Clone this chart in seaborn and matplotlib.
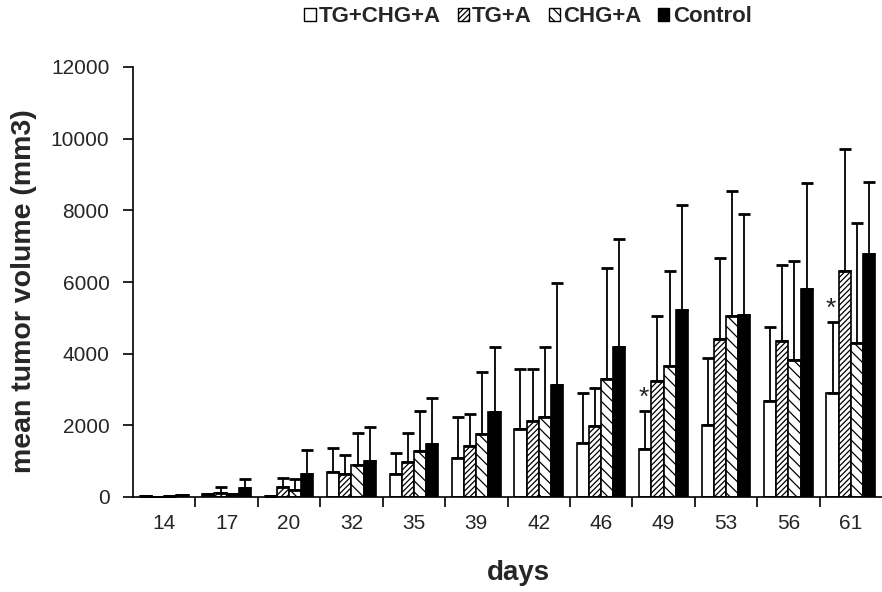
import numpy as np
import pandas as pd
import matplotlib
matplotlib.use('Agg')
import matplotlib.pyplot as plt
from matplotlib.patches import Patch
import seaborn as sns

# data
days = ['14', '17', '20', '32', '35', '39', '42', '46', '49', '53', '56', '61']
groups = ['TG+CHG+A', 'TG+A', 'CHG+A', 'Control']

tg_chg_a = [40, 70, 20, 700, 630, 1100, 1900, 1520, 1340, 2010, 2690, 2900]
tg_chg_a_err = [0, 0, 0, 680, 590, 1130, 1670, 1380, 1050, 1860, 2060, 1980]
tg_a = [10, 100, 290, 650, 970, 1435, 2120, 1990, 3240, 4420, 4340, 6300]
tg_a_err = [0, 180, 250, 510, 810, 875, 1450, 1040, 1800, 2240, 2140, 3410]
chg_a = [20, 70, 200, 890, 1280, 1760, 2230, 3280, 3660, 5050, 3830, 4290]
chg_a_err = [0, 0, 310, 890, 1110, 1730, 1970, 3120, 2640, 3490, 2770, 3370]
control = [60, 250, 630, 1000, 1480, 2370, 3120, 4200, 5220, 5090, 5810, 6780]
control_err = [0, 240, 670, 950, 1290, 1830, 2860, 3000, 2940, 2820, 2950, 2020]
star_days = ['49', '61']

values = [tg_chg_a, tg_a, chg_a, control]
errors = [tg_chg_a_err, tg_a_err, chg_a_err, control_err]

df = pd.DataFrame({
    'day': np.tile(days, 4),
    'group': np.repeat(groups, len(days)),
    'volume': np.concatenate(values),
})

sns.set_style('ticks')
plt.rcParams['font.family'] = ['Liberation Sans', 'DejaVu Sans']
plt.rcParams['hatch.linewidth'] = 0.9

fig = plt.figure(figsize=(8.82, 5.92), dpi=100)
ax = fig.add_axes([133 / 882, 1 - 497 / 592, 1 - 133 / 882, (497 - 67) / 592])

colors = ['white', 'white', 'white', 'black']
hatches = ['', '//////', '\\\\\\', '']

sns.barplot(data=df, x='day', y='volume', hue='group', order=days, hue_order=groups,
            palette=colors, errorbar=None, width=0.78, edgecolor='black',
            linewidth=1.2, saturation=1, legend=False, ax=ax)

bar_conts = list(ax.containers)
for cont, h, err in zip(bar_conts, hatches, errors):
    xs, ys = [], []
    for bar in cont:
        bar.set_hatch(h)
        xs.append(bar.get_x() + bar.get_width() / 2)
        ys.append(bar.get_height())
    ax.errorbar(xs, ys, yerr=[np.zeros(len(ys)), err], fmt='none', ecolor='black',
                elinewidth=1.3, capsize=4.5, capthick=2, zorder=1)

# significance markers above the TG+CHG+A bars
for d in star_days:
    i = days.index(d)
    bar = bar_conts[0][i]
    ax.text(bar.get_x() + bar.get_width() * 0.35, tg_chg_a[i] + tg_chg_a_err[i] + 380, '*',
            ha='center', va='center', fontsize=19, color='#222222')

ax.set_ylim(0, 12000)
ax.set_yticks(range(0, 12001, 2000))
ax.set_xlim(-0.5, len(days) - 0.5)
ax.set_xticks(np.arange(0.5, len(days) - 1, 1), minor=True)
ax.tick_params(axis='x', which='major', length=0, labelsize=15, pad=12)
ax.tick_params(axis='x', which='minor', length=7, width=1.2, color='black')
ax.tick_params(axis='y', length=7, width=1.2, labelsize=15, color='black', pad=10)
for s in ['left', 'bottom']:
    ax.spines[s].set_linewidth(1.2)
    ax.spines[s].set_color('black')
sns.despine(ax=ax)

ax.set_xlabel('days', fontsize=20, fontweight='bold', va='center')
ax.xaxis.set_label_coords((518 - 133) / (882 - 133), -(573 - 497) / (497 - 67))
ax.set_ylabel('mean tumor volume (mm3)', fontsize=20.5, fontweight='bold', va='center')
ax.yaxis.set_label_coords(-(133 - 24) / (882 - 133), (497 - 291) / (497 - 67))

handles = [Patch(facecolor=c, edgecolor='black', hatch=h, linewidth=1.0)
           for c, h in zip(colors, hatches)]
fig.legend(handles, groups, loc='center', bbox_to_anchor=(528 / 882, 1 - 17 / 592),
           ncol=4, frameon=False, prop={'weight': 'bold', 'size': 16},
           handlelength=0.5, handleheight=0.5, handletextpad=0.15,
           columnspacing=0.75, borderaxespad=0, borderpad=0)

plt.savefig('out.png', dpi=100)
